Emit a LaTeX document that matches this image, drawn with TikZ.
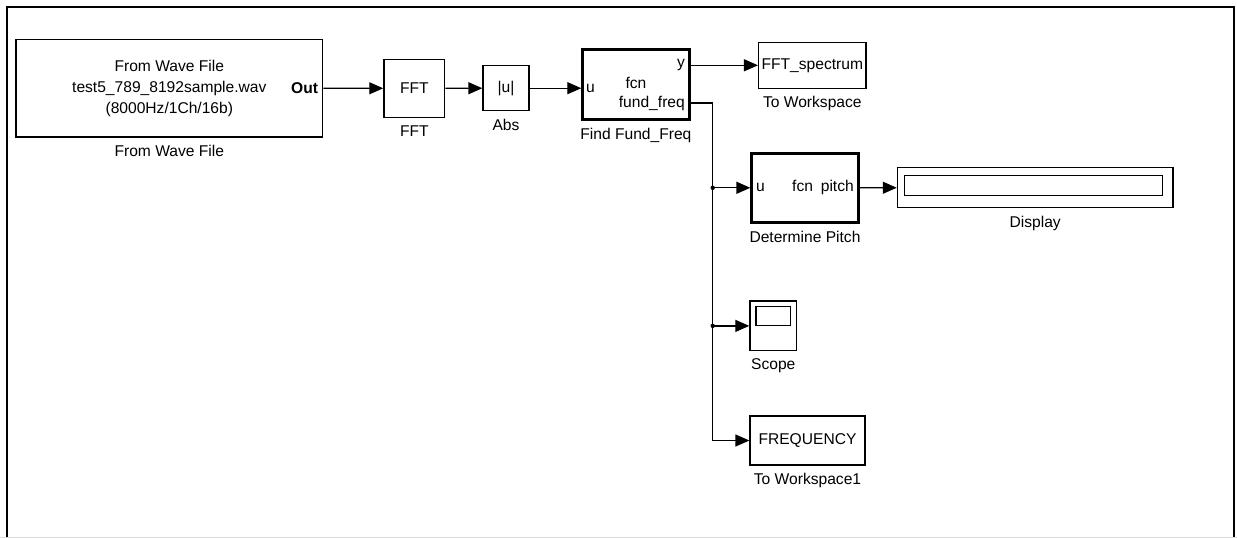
\documentclass[tikz,border=0pt]{standalone}
\usepackage{fontspec}
\setmainfont{Liberation Sans}
\usetikzlibrary{arrows.meta,positioning}
\begin{document}
\begin{tikzpicture}[x=1pt,y=-1pt,
  every node/.style={font=\fontsize{15.6}{21}\selectfont,inner sep=0pt,align=center},
  blk/.style 2 args={draw,line width=1.3pt,minimum width=#1,minimum height=#2},
  thk/.style={line width=2.6pt},
  lbl/.style={below=7.5pt of #1},
  a/.style={-{Triangle[length=14pt,width=12pt]},line width=1.3pt}]
  \useasboundingbox (0,0) rectangle (1237,538);
  \draw[line width=2.4pt] (7,538) -- (7,7) -- (1234,7) -- (1234,538);
  \draw[gray!30] (0,537.5) -- (1237,537.5);
  \node[blk={306.6pt}{97.7pt}] (fw) at (169.3,88.2) {From Wave File\\test5\_789\_8192sample.wav\\(8000Hz/1Ch/16b)};
  \node[anchor=east,font=\fontsize{15.6}{21}\selectfont\bfseries] (out) at ([xshift=-5pt]fw.east) {Out};
  \node[lbl=fw] (fwl) {From Wave File};
  \node[blk={60.8pt}{58pt}] (fft) at (414.3,88.3) {FFT};
  \node[lbl=fft] (fftl) {FFT};
  \node[blk={46pt}{45pt}] (abs) at (506,88.2) {|u|};
  \node[lbl=abs] (absl) {Abs};
  \node[blk={106.6pt}{70pt},thk] (ff) at (635.9,84.3) {};
  \node[anchor=west] (ffu) at (586,88) {u};
  \node (fffcn) at (636,83) {fcn};
  \node[anchor=east] (ffy) at (685,65) {y};
  \node[anchor=east] (fffq) at (685,103) {fund\_freq};
  \node[lbl=ff] (ffl) {Find Fund\_Freq};
  \node[blk={107.4pt}{46pt}] (ws) at (812.3,65.3) {FFT\_spectrum};
  \node[lbl=ws] (wsl) {To Workspace};
  \node[blk={106.7pt}{69pt},thk] (dp) at (805,187.8) {};
  \node[anchor=west] (dpu) at (756,187.8) {u};
  \node[anchor=east] (dpo) at (854,187.8) {fcn\enspace pitch};
  \node[lbl=dp] (dpl) {Determine Pitch};
  \node[blk={275.6pt}{40pt}] (dsp) at (1035.2,187.7) {};
  \node[blk={258pt}{20pt}] (dspw) at (1033.8,185.7) {};
  \node[lbl=dsp] (dspl) {Display};
  \node[blk={46.7pt}{49.7pt}] (sc) at (773.3,325.9) {};
  \node[blk={34.7pt}{19pt}] (scw) at (773.3,316.2) {};
  \node[lbl=sc] (scl) {Scope};
  \node[blk={115pt}{49pt}] (fq) at (807.5,440.5) {FREQUENCY};
  \node[lbl=fq] (fql) {To Workspace1};
  \coordinate (j) at (712.7,103);
  \draw[a] (fw) -- (fft);
  \draw[a] (fft) -- (abs);
  \draw[a] (abs) -- (abs -| ff.west);
  \draw[a] (ws -| ff.east) -- (ws);
  \draw[line width=1.3pt] (fffq.east -| ff.east) -- (j);
  \draw[a] (j) |- (fq);
  \draw[a] (j |- dp) -- (dp);
  \draw[a] (j |- sc) -- (sc);
  \draw[a] (dp) -- (dsp);
  \fill (j |- dp) circle (2.2pt);
  \fill (j |- sc) circle (2.2pt);
\end{tikzpicture}
\end{document}
